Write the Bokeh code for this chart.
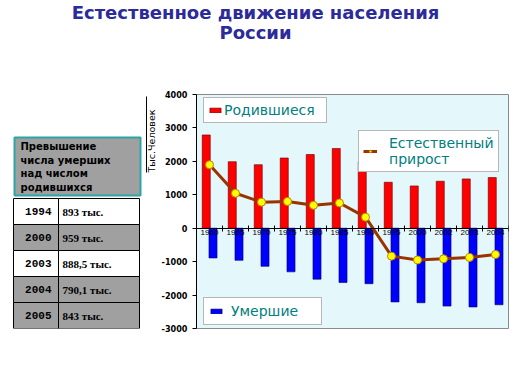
import numpy as np
from bokeh.plotting import figure
from bokeh.layouts import column, row
from bokeh.models import (Range1d, FixedTicker, Legend, LegendItem, ColumnDataSource)
from bokeh.transform import dodge
from bokeh.core.properties import value
from bokeh.embed import file_html
from bokeh.resources import INLINE

# ---- data ----
years = ["1960", "1965", "1970", "1975", "1980", "1985", "1990",
         "1995", "2000", "2002", "2003", "2004"]
births = [2790, 1990, 1900, 2100, 2205, 2385, 1990, 1375, 1265, 1405, 1475, 1515]
deaths = [-890, -960, -1140, -1305, -1525, -1625, -1660, -2205, -2230, -2330, -2355, -2290]
growth = [1900, 1045, 780, 800, 685, 755, 330, -835, -950, -915, -875, -785]

y_ticks = [-3000, -2000, -1000, 0, 1000, 2000, 3000, 4000]
y_tick_labels = ["-3000", "-2000", "-1000", "0", "1000", "2000", "3000", "4000"]

table_years = ["1994", "2000", "2003", "2004", "2005"]
table_values = ["893 тыс.", "959 тыс.", "888,5 тыс.", "790,1 тыс.", "843 тыс."]
table_header = ["Превышение", "числа умерших", "над числом", "родившихся"]

title_lines = ["Естественное движение населения", "России"]
y_title = "Тыс.Человек"

# frame of the chart in page pixels
FL, FR, FT, FB = 190, 508, 94, 328
TH = 45          # height of title strip
LW = 158         # width of left (table) panel

# ---- title strip ----
pt = figure(width=531, height=TH, x_range=Range1d(0, 531), y_range=Range1d(TH, 0),
            x_axis_type=None, y_axis_type=None, output_backend="svg",
            toolbar_location=None, min_border=0, outline_line_color=None)
pt.grid.visible = False
pt.text(x=[255, 255], y=[12, 32], text=title_lines, text_align="center",
        text_baseline="middle", text_font=value("DejaVu Sans"),
        text_font_style="bold", text_font_size="18px", text_color="#2b2b99")

# ---- table panel (page coordinates; frame aligned with chart frame) ----
LH = 383 - TH
pl = figure(width=LW, height=LH, x_range=Range1d(0, LW), y_range=Range1d(FB, FT),
            x_axis_type=None, y_axis_type=None, output_backend="svg",
            toolbar_location=None, min_border_left=0, min_border_right=0,
            min_border_top=FT - TH, min_border_bottom=383 - FB,
            outline_line_color=None)
pl.grid.visible = False

pl.quad(left=[14], right=[140], top=[137], bottom=[195], fill_color="#a0a0a0",
        line_color="#2aa6a6", line_width=2)
pl.text(x=[20] * 4, y=[146 + 13.5 * i for i in range(4)], text=table_header,
        text_align="left", text_baseline="middle", text_font=value("DejaVu Sans"),
        text_font_style="bold", text_font_size="10px", text_color="black")

row_fill = ["white", "#a0a0a0", "white", "#a0a0a0", "#a0a0a0"]
tops = [198 + 26 * i for i in range(len(table_years))]
pl.quad(left=[13] * 5 + [58] * 5, right=[58] * 5 + [139] * 5,
        top=tops + tops, bottom=[t + 26 for t in tops] * 2,
        fill_color=row_fill + row_fill, line_color="black", line_width=1)
pl.text(x=[51] * 5, y=[t + 13 for t in tops], text=table_years, text_align="right",
        text_baseline="middle", text_font=value("Liberation Mono"),
        text_font_style="bold", text_font_size="11px", text_color="black")
pl.text(x=[62] * 5, y=[t + 13 for t in tops], text=table_values, text_align="left",
        text_baseline="middle", text_font=value("Liberation Serif"),
        text_font_style="bold", text_font_size="11px", text_color="black")

# y-axis title (rotated, underlined)
pl.text(x=[151], y=[172], text=[y_title], angle=np.pi / 2, text_align="left",
        text_baseline="middle", text_font=value("DejaVu Sans"),
        text_font_size="9.5px", text_color="black")
pl.segment(x0=[146], y0=[172], x1=[146], y1=[96], line_color="black", line_width=1)

# ---- chart ----
n = len(years)
xs = [i + 0.5 for i in range(n)]
src = ColumnDataSource(dict(x=xs, years=years, zero=[0] * n,
                            births=births, deaths=deaths, growth=growth))

p = figure(width=531 - LW, height=LH, x_range=Range1d(0, n), y_range=Range1d(-3000, 4000),
           output_backend="svg", toolbar_location=None,
           min_border_left=FL - LW, min_border_right=531 - FR, min_border_top=FT - TH,
           min_border_bottom=383 - FB, background_fill_color="#e4f7fb",
           border_fill_color="white", outline_line_color="#8a8a8a")
p.xgrid.visible = False
p.ygrid.visible = False

red = p.vbar(x=dodge("x", -0.125, range=p.x_range), top="births", width=0.31,
             source=src, fill_color="#ff0000", line_color="#600000", line_width=0.6)
blue = p.vbar(x=dodge("x", 0.135, range=p.x_range), top="deaths", width=0.31,
              source=src, fill_color="#0000ff", line_color="#000060", line_width=0.6)

# category labels, drawn on top of the bars just under the zero line
p.text(x="x", y="zero", text="years", source=src, text_align="center",
       text_baseline="top", y_offset=2, text_font=value("Liberation Sans"),
       text_font_size="8px", text_color="black")

ln = p.line("x", "growth", source=src, line_color="#993300", line_width=3)
sc = p.scatter("x", "growth", source=src, size=8, fill_color="#ffff00",
               line_color="#c08000", line_width=1)

xa = p.xaxis[0]
xa.fixed_location = 0
xa.ticker = FixedTicker(ticks=[], minor_ticks=list(range(n + 1)))
xa.major_tick_line_color = None
xa.minor_tick_in = 3
xa.minor_tick_out = 3
xa.minor_tick_line_color = "black"
xa.axis_line_color = "black"

ya = p.yaxis[0]
ya.ticker = FixedTicker(ticks=y_ticks)
ya.major_label_overrides = {t: s for t, s in zip(y_ticks, y_tick_labels)}
ya.major_tick_in = 0
ya.major_tick_out = 4
ya.minor_tick_line_color = None
ya.major_label_standoff = 5
ya.major_label_text_font_size = "9px"
ya.major_label_text_font_style = "bold"
ya.major_label_text_font = "'Liberation Sans Narrow', 'DejaVu Sans Condensed', sans-serif"
ya.major_label_text_color = "black"
ya.axis_line_color = "black"


def make_legend(items, loc, padding, standoff, label_width):
    lg = Legend(items=items, location=loc, padding=padding, margin=0,
                label_standoff=standoff, glyph_width=14, glyph_height=6,
                label_width=label_width,
                label_text_font="DejaVu Sans", label_text_font_size="14px",
                label_text_color="#008080", border_line_color="#707070",
                background_fill_color="white", background_fill_alpha=1.0,
                label_height=14, spacing=0)
    p.add_layout(lg, "center")


make_legend([LegendItem(label="Родившиеся", renderers=[red])], (7, 205), 4, 2, 98)
make_legend([LegendItem(label="Естественный\nприрост", renderers=[ln, sc])],
            (162, 156), 4, 12, 104)
make_legend([LegendItem(label="Умершие", renderers=[blue])], (7, 3), 5, 8, 85)

layout = column(pt, row(pl, p))
open("out.html", "w").write(file_html(layout, INLINE))
